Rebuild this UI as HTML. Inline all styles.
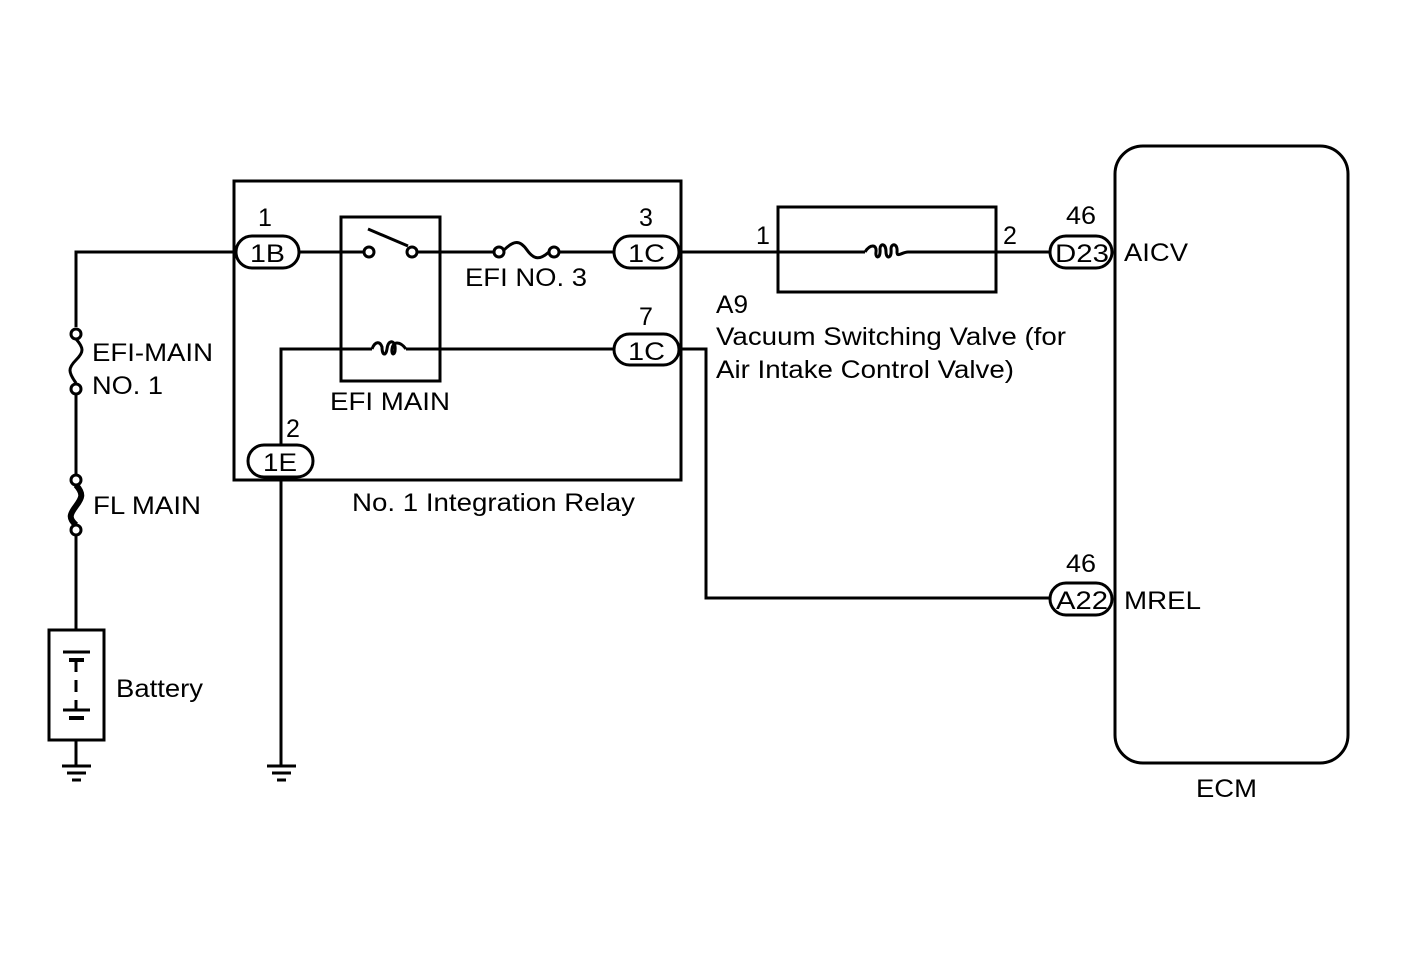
<!DOCTYPE html>
<html><head><meta charset="utf-8"><style>
html,body{margin:0;padding:0;background:#fff}
svg{display:block}
text{font-family:"Liberation Sans",sans-serif;font-size:25px;fill:#000}
</style></head><body>
<svg width="1424" height="959" viewBox="0 0 1424 959" xmlns="http://www.w3.org/2000/svg">
<g fill="none" stroke="#000" stroke-width="3">
<polyline points="236,252 76,252 76,327"/>
<circle cx="76" cy="334" r="5" fill="#fff"/>
<path d="M76,339 C84,348 84,352 76,360 C68,368 68,372 76,383"/>
<circle cx="76" cy="389" r="5" fill="#fff"/>
<line x1="76" y1="394" x2="76" y2="474"/>
<circle cx="76" cy="480" r="5" fill="#fff"/>
<path d="M76,485 C84,494 82,498 76,506 C70,514 68,518 76,525" stroke-width="6"/>
<circle cx="76" cy="530" r="5" fill="#fff"/>
<line x1="76" y1="535" x2="76" y2="630"/>
<rect x="49" y="630" width="55" height="110"/>
<line x1="63" y1="652" x2="90" y2="652"/>
<line x1="69" y1="660" x2="84" y2="660" stroke-width="4"/>
<line x1="76" y1="660" x2="76" y2="672"/>
<line x1="76" y1="680" x2="76" y2="692"/>
<line x1="76" y1="700" x2="76" y2="710"/>
<line x1="63" y1="710" x2="90" y2="710"/>
<line x1="69" y1="718" x2="84" y2="718" stroke-width="4"/>
<line x1="76" y1="740" x2="76" y2="766"/>
<line x1="62" y1="766" x2="91" y2="766"/>
<line x1="67" y1="773" x2="86" y2="773"/>
<line x1="72" y1="780" x2="81" y2="780"/>
<rect x="234" y="181" width="447" height="299"/>
<rect x="341" y="217" width="99" height="164"/>
<line x1="299" y1="252" x2="364" y2="252"/>
<circle cx="369" cy="252" r="5" fill="#fff"/>
<line x1="368" y1="229" x2="408" y2="246"/>
<circle cx="412" cy="252" r="5" fill="#fff"/>
<line x1="417" y1="252" x2="494" y2="252"/>
<circle cx="499" cy="252" r="5" fill="#fff"/>
<path d="M504,250 C514,240 520,240 527,250 C534,260 540,260 549,252"/>
<circle cx="554" cy="252" r="5" fill="#fff"/>
<line x1="559" y1="252" x2="614" y2="252"/>
<polyline points="614,349 406,349"/>
<path d="M406,349 C400,341 393,341 392,349 C391,356 396,356 395,346 C394,340 388,340 387,349 C386,356 382,356 382,347 C380,341 375,341 372,349"/>
<polyline points="372,349 281,349 281,445"/>
<line x1="281" y1="477" x2="281" y2="766"/>
<line x1="267" y1="766" x2="296" y2="766"/>
<line x1="272" y1="773" x2="291" y2="773"/>
<line x1="277" y1="780" x2="286" y2="780"/>
<rect x="236" y="236" width="63" height="32" rx="16"/>
<rect x="614" y="236" width="65" height="32" rx="16"/>
<rect x="614" y="334" width="65" height="31" rx="15.5"/>
<rect x="248" y="445" width="65" height="32" rx="16"/>
<rect x="1050" y="236" width="62" height="32" rx="16"/>
<rect x="1050" y="583" width="62" height="32" rx="16"/>
<line x1="679" y1="252" x2="865" y2="252"/>
<path d="M865,252 C870,244 877,244 876,252 C875,259 881,259 880,249 C880,243 886,243 886,252 C886,259 892,259 891,249 C891,243 898,243 897,252 C897,258 902,252 908,252"/>
<line x1="908" y1="252" x2="1050" y2="252"/>
<rect x="778" y="207" width="218" height="85"/>
<polyline points="679,349 706,349 706,598 1050,598"/>
<rect x="1115" y="146" width="233" height="617" rx="28"/>
</g>
<text x="258" y="226">1</text>
<text x="250" y="262" textLength="35" lengthAdjust="spacingAndGlyphs">1B</text>
<text x="639" y="226">3</text>
<text x="628" y="262" textLength="37" lengthAdjust="spacingAndGlyphs">1C</text>
<text x="639" y="325">7</text>
<text x="628" y="360" textLength="37" lengthAdjust="spacingAndGlyphs">1C</text>
<text x="286" y="437">2</text>
<text x="263" y="471" textLength="34" lengthAdjust="spacingAndGlyphs">1E</text>
<text x="465" y="286" textLength="122" lengthAdjust="spacingAndGlyphs">EFI NO. 3</text>
<text x="330" y="410" textLength="120" lengthAdjust="spacingAndGlyphs">EFI MAIN</text>
<text x="352" y="511" textLength="283" lengthAdjust="spacingAndGlyphs">No. 1 Integration Relay</text>
<text x="92" y="361" textLength="121" lengthAdjust="spacingAndGlyphs">EFI-MAIN</text>
<text x="92" y="394" textLength="71" lengthAdjust="spacingAndGlyphs">NO. 1</text>
<text x="93" y="514" textLength="108" lengthAdjust="spacingAndGlyphs">FL MAIN</text>
<text x="116" y="697" textLength="87" lengthAdjust="spacingAndGlyphs">Battery</text>
<text x="756" y="244">1</text>
<text x="1003" y="244">2</text>
<text x="1066" y="224" textLength="30" lengthAdjust="spacingAndGlyphs">46</text>
<text x="1055" y="262" textLength="54" lengthAdjust="spacingAndGlyphs">D23</text>
<text x="1124" y="261" textLength="64" lengthAdjust="spacingAndGlyphs">AICV</text>
<text x="1066" y="572" textLength="30" lengthAdjust="spacingAndGlyphs">46</text>
<text x="1056" y="609" textLength="52" lengthAdjust="spacingAndGlyphs">A22</text>
<text x="1124" y="609" textLength="77" lengthAdjust="spacingAndGlyphs">MREL</text>
<text x="716" y="313" textLength="32" lengthAdjust="spacingAndGlyphs">A9</text>
<text x="716" y="345" textLength="350" lengthAdjust="spacingAndGlyphs">Vacuum Switching Valve (for</text>
<text x="716" y="378" textLength="298" lengthAdjust="spacingAndGlyphs">Air Intake Control Valve)</text>
<text x="1196" y="797" textLength="61" lengthAdjust="spacingAndGlyphs">ECM</text>
</svg>
</body></html>
